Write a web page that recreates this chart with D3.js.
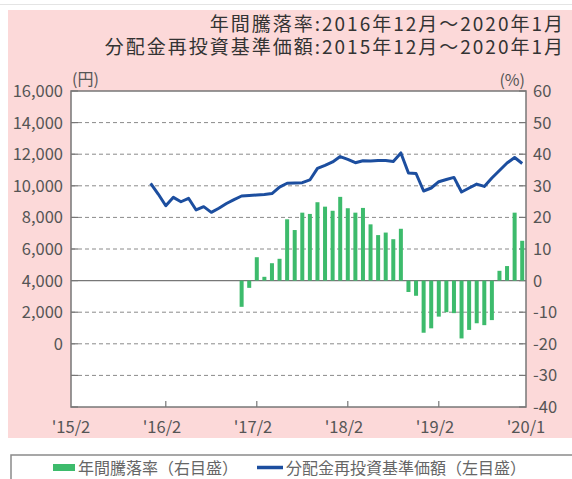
<!DOCTYPE html>
<meta charset="utf-8">
<style>
body {
    margin: 0;
    padding: 0;
    background: #fff;
}
text {
    font-family: "Noto Sans CJK JP", "Noto Sans", sans-serif;
    fill: #555;
}
</style>
<body>
<svg width="572" height="479"></svg>

<script src="https://cdn.jsdelivr.net/npm/d3@7"></script>

<script>
// 分配金再投資基準価額 (円), 2015/12 から 2020/1 まで毎月
var navStart = "2015-12";
var navValues = [
    10160, 9480, 8740, 9270, 8990, 9210, 8470, 8680, 8320, 8580,
    8880, 9130, 9355, 9390, 9420, 9450, 9510, 9920, 10160, 10180,
    10200, 10370, 11100, 11290, 11510, 11850, 11670, 11460, 11590, 11570,
    11600, 11600, 11540, 12080, 10810, 10780, 9670, 9860, 10260, 10400,
    10530, 9610, 9860, 10110, 9960, 10490, 10970, 11440, 11790, 11410
];

// 年間騰落率 (%), 2016/12 から 2020/1 まで毎月
var returnStart = "2016-12";
var returnValues = [
    -8.3, -2.3, 7.4, 1.2, 5.5, 6.9, 19.4, 16.0, 21.5, 21.1,
    24.8, 23.4, 22.1, 26.5, 22.9, 21.5, 23.0, 17.8, 14.4, 15.2,
    13.1, 16.4, -3.6, -4.8, -16.5, -15.1, -11.4, -10.0, -10.3, -18.3,
    -15.6, -13.5, -14.1, -12.5, 3.1, 4.6, 21.5, 12.6
];

var leftTicks = [0, 2000, 4000, 6000, 8000, 10000, 12000, 14000, 16000];
var gridTicks = [-4000, -2000, 0, 2000, 4000, 6000, 8000, 10000, 12000, 14000, 16000];
var rightTicks = [-40, -30, -20, -10, 0, 10, 20, 30, 40, 50, 60];
var xTickMonths = ["2016-02", "2017-02", "2018-02", "2019-02"];
var xLabels = [
    {month: "2015-02", text: "'15/2"},
    {month: "2016-02", text: "'16/2"},
    {month: "2017-02", text: "'17/2"},
    {month: "2018-02", text: "'18/2"},
    {month: "2019-02", text: "'19/2"},
    {month: "2020-01", text: "'20/1", end: true}
];
var titleLines = [
    "年間騰落率:2016年12月～2020年1月",
    "分配金再投資基準価額:2015年12月～2020年1月"
];
var legendItems = ["年間騰落率（右目盛）", "分配金再投資基準価額（左目盛）"];

var svg = d3.select("svg");
var margin = {left: 71, right: 526, top: 91, bottom: 407};

var parseMonth = d3.utcParse("%Y-%m");
var fmtMonth = d3.utcFormat("%Y-%m");
var months = d3.utcMonth.range(parseMonth("2015-02"), parseMonth("2020-02")).map(fmtMonth);

// helper: turn a start month + values into rows
function toRows(start, values) {
    var i0 = months.indexOf(start);
    return values.map(function(v, i) { return {month: months[i0 + i], value: v}; });
}
var navData = toRows(navStart, navValues);
var returnData = toRows(returnStart, returnValues);

var x = d3.scaleBand().domain(months).range([margin.left, margin.right]).padding(0);
var yLeft = d3.scaleLinear().domain([-4000, 16000]).range([margin.bottom, margin.top]);
var yRight = d3.scaleLinear().domain([-40, 60]).range([margin.bottom, margin.top]);

// pink panel
svg.append("line")
    .attr("x1", 0).attr("x2", 572).attr("y1", 4.5).attr("y2", 4.5)
    .attr("stroke", "#e4e4e4").attr("stroke-width", 1);
svg.append("rect")
    .attr("x", 8).attr("y", 10).attr("width", 564).attr("height", 428)
    .attr("fill", "#fcd9d9");

// title
svg.selectAll(".title")
    .data(titleLines)
    .enter().append("text")
    .attr("class", "title")
    .attr("x", 565)
    .attr("y", function(d, i) { return 31 + i * 23; })
    .attr("text-anchor", "end")
    .style("font-size", "19px")
    .style("letter-spacing", "2px")
    .style("fill", "#333")
    .text(function(d) { return d; });

// plot area
svg.append("rect")
    .attr("x", margin.left).attr("y", margin.top)
    .attr("width", margin.right - margin.left).attr("height", margin.bottom - margin.top)
    .attr("fill", "#fff");

// grid lines (dashed), 0% line solid
svg.append("g").selectAll("line")
    .data(gridTicks.filter(function(d) { return d > -4000 && d < 16000; }))
    .enter().append("line")
    .attr("x1", margin.left).attr("x2", margin.right)
    .attr("y1", function(d) { return yLeft(d); })
    .attr("y2", function(d) { return yLeft(d); })
    .attr("stroke", function(d) { return d === 4000 ? "#777" : "#8a8a8a"; })
    .attr("stroke-width", function(d) { return d === 4000 ? 1.3 : 1; })
    .attr("stroke-dasharray", function(d) { return d === 4000 ? null : "4,3"; });

// inner ticks on left and right edges
svg.append("g").selectAll("line")
    .data(gridTicks)
    .enter().append("line")
    .attr("x1", margin.left).attr("x2", margin.left + 7)
    .attr("y1", function(d) { return yLeft(d); })
    .attr("y2", function(d) { return yLeft(d); })
    .attr("stroke", "#777").attr("stroke-width", 1.2);
svg.append("g").selectAll("line")
    .data(gridTicks)
    .enter().append("line")
    .attr("x1", margin.right - 7).attr("x2", margin.right)
    .attr("y1", function(d) { return yLeft(d); })
    .attr("y2", function(d) { return yLeft(d); })
    .attr("stroke", "#777").attr("stroke-width", 1.2);

// bottom ticks
svg.append("g").selectAll("line")
    .data(xTickMonths)
    .enter().append("line")
    .attr("x1", function(d) { return x(d) + x.bandwidth() / 2; })
    .attr("x2", function(d) { return x(d) + x.bandwidth() / 2; })
    .attr("y1", margin.bottom).attr("y2", margin.bottom - 6)
    .attr("stroke", "#777").attr("stroke-width", 1.2);

// bars (right axis)
var barW = 4;
svg.append("g").selectAll("rect")
    .data(returnData)
    .enter().append("rect")
    .attr("x", function(d) { return x(d.month) + x.bandwidth() / 2 - barW / 2; })
    .attr("width", barW)
    .attr("y", function(d) { return yRight(Math.max(0, d.value)); })
    .attr("height", function(d) { return Math.abs(yRight(d.value) - yRight(0)); })
    .attr("fill", "#3dbb6c");

// line (left axis)
var line = d3.line()
    .x(function(d) { return x(d.month) + x.bandwidth() / 2; })
    .y(function(d) { return yLeft(d.value); });
svg.append("path")
    .datum(navData)
    .attr("d", line)
    .attr("fill", "none")
    .attr("stroke", "#1c4e9f")
    .attr("stroke-width", 3)
    .attr("stroke-linejoin", "round");

// frame
svg.append("rect")
    .attr("x", margin.left).attr("y", margin.top)
    .attr("width", margin.right - margin.left).attr("height", margin.bottom - margin.top)
    .attr("fill", "none")
    .attr("stroke", "#777").attr("stroke-width", 1.5);

// left axis labels
svg.append("g").selectAll("text")
    .data(leftTicks)
    .enter().append("text")
    .attr("x", 63)
    .attr("y", function(d) { return yLeft(d); })
    .attr("dy", "0.36em")
    .attr("text-anchor", "end")
    .style("font-size", "16.5px")
    .text(d3.format(","));

// right axis labels
svg.append("g").selectAll("text")
    .data(rightTicks)
    .enter().append("text")
    .attr("x", 533)
    .attr("y", function(d) { return yRight(d); })
    .attr("dy", "0.36em")
    .style("font-size", "16.5px")
    .text(function(d) { return d; });

// unit labels
svg.append("text").attr("x", 72).attr("y", 85).style("font-size", "16px").text("(円)");
svg.append("text").attr("x", 525).attr("y", 86).attr("text-anchor", "end").style("font-size", "16px").text("(%)");

// x labels
svg.append("g").selectAll("text")
    .data(xLabels)
    .enter().append("text")
    .attr("x", function(d) { return d.end ? x.range()[1] : x(d.month); })
    .attr("y", 433)
    .attr("text-anchor", "middle")
    .style("font-size", "16.5px")
    .text(function(d) { return d.text; });

// legend
svg.append("rect")
    .attr("x", 11).attr("y", 455).attr("width", 580).attr("height", 40)
    .attr("fill", "#fff").attr("stroke", "#8a8a8a").attr("stroke-width", 1.5);
svg.append("rect")
    .attr("x", 53).attr("y", 464).attr("width", 22).attr("height", 7)
    .attr("fill", "#3dbb6c");
svg.append("line")
    .attr("x1", 257).attr("x2", 283).attr("y1", 467.5).attr("y2", 467.5)
    .attr("stroke", "#1c4e9f").attr("stroke-width", 3.5);
svg.append("text").attr("x", 78).attr("y", 474).style("font-size", "16px").style("fill", "#666").text(legendItems[0]);
svg.append("text").attr("x", 286).attr("y", 474).style("font-size", "16px").style("fill", "#666").text(legendItems[1]);
</script>
</body>
